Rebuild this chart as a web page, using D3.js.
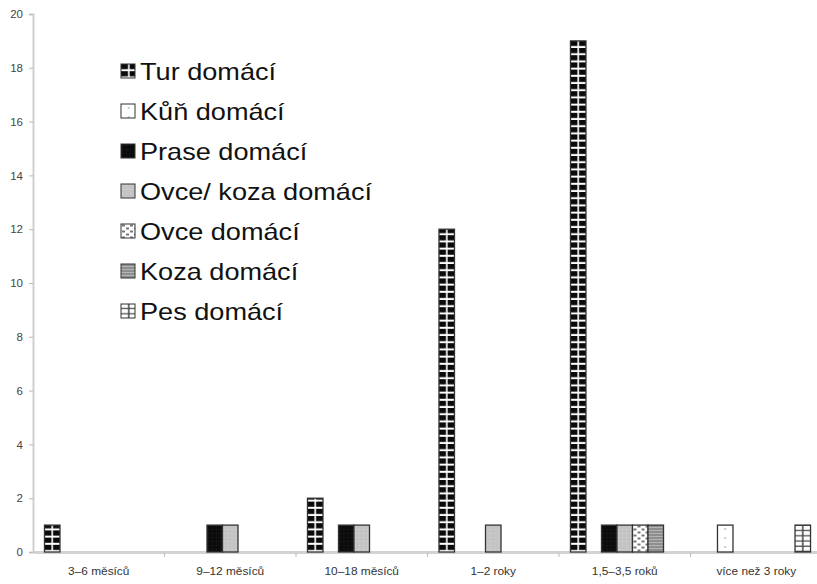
<!DOCTYPE html>
<html>
<head>
<meta charset="utf-8">
<script src="https://cdn.jsdelivr.net/npm/d3@7"></script>
<style>
  body { margin: 0; background: #fff; }
  svg { display: block; font-family: "Liberation Sans", Arial, sans-serif; }
</style>
</head>
<body>
<div id="chart"></div>
<script>
// age groups on the x axis
var categories = ["3–6 měsíců", "9–12 měsíců", "10–18 měsíců", "1–2 roky", "1,5–3,5 roků", "více než 3 roky"];
var series = ["Tur domácí", "Kůň domácí", "Prase domácí", "Ovce/ koza domácí", "Ovce domácí", "Koza domácí", "Pes domácí"];

// one array per species, in category order
var tur      = [1, 0, 2, 12, 19, 0];
var kun      = [0, 0, 0, 0, 0, 1];
var prase    = [0, 1, 1, 0, 1, 0];
var ovceKoza = [0, 1, 1, 1, 1, 0];
var ovce     = [0, 0, 0, 0, 1, 0];
var koza     = [0, 0, 0, 0, 1, 0];
var pes      = [0, 0, 0, 0, 0, 1];
var yTicks = [0, 2, 4, 6, 8, 10, 12, 14, 16, 18, 20];

var values = [tur, kun, prase, ovceKoza, ovce, koza, pes];

var width = 817, height = 584;
var margin = { top: 14, right: -5, bottom: 32, left: 33 };
var stretch = 1.13; // the original text is a bit wider than Arial

var svg = d3.select('#chart').append('svg')
    .attr('width', width)
    .attr('height', height);

var defs = svg.append('defs');

// fill patterns, one per series (black & white print style)
function pat(id, w, h, bg) {
    var p = defs.append('pattern')
        .attr('id', id)
        .attr('patternUnits', 'userSpaceOnUse')
        .attr('width', w).attr('height', h);
    p.append('rect').attr('width', w).attr('height', h).attr('fill', bg);
    return p;
}

var p0 = pat('p0', 15.5, 7.2, '#0a0a0a');
p0.append('rect').attr('x', 7).attr('width', 1.6).attr('height', 7.2).attr('fill', '#fff');
p0.append('rect').attr('y', 5.2).attr('width', 15.5).attr('height', 2).attr('fill', '#fff');

var p1 = pat('p1', 15.5, 9, '#fff');
p1.append('circle').attr('cx', 7.75).attr('cy', 4).attr('r', 1).attr('fill', '#bbb');

var p2 = pat('p2', 4, 4, '#0c0c0c');
p2.append('rect').attr('x', 1).attr('y', 1).attr('width', 1).attr('height', 1).attr('fill', '#222');

var p3 = pat('p3', 4, 4, '#c4c4c4');
p3.append('rect').attr('x', 1).attr('y', 1).attr('width', 1).attr('height', 1).attr('fill', '#d6d6d6');

var p4 = pat('p4', 8, 6, '#fff');
p4.append('rect').attr('x', 1).attr('y', 0.5).attr('width', 3).attr('height', 2).attr('fill', '#777');
p4.append('rect').attr('x', 5).attr('y', 3.5).attr('width', 3).attr('height', 2).attr('fill', '#777');

var p5 = pat('p5', 4, 3, '#8e8e8e');
p5.append('rect').attr('y', 2).attr('width', 4).attr('height', 1).attr('fill', '#b4b4b4');

var p6 = pat('p6', 15.5, 5.2, '#fff');
p6.append('rect').attr('x', 7).attr('width', 1.5).attr('height', 5.2).attr('fill', '#444');
p6.append('rect').attr('y', 4).attr('width', 15.5).attr('height', 1.2).attr('fill', '#444');

var x0 = d3.scaleBand()
    .domain(categories)
    .range([margin.left, width - margin.right])
    .padding(0);

var x1 = d3.scaleBand()
    .domain(series)
    .range([0, x0.bandwidth()])
    .paddingInner(0)
    .paddingOuter(0.74);

var y = d3.scaleLinear()
    .domain([0, 20])
    .range([height - margin.bottom, margin.top]);

// y axis
var yAxis = svg.append('g')
    .attr('transform', 'translate(' + margin.left + ',0)')
    .call(d3.axisLeft(y).tickValues(yTicks).tickSize(4).tickPadding(6));
yAxis.select('.domain').attr('stroke', '#cfcfcf').attr('stroke-width', 2);
yAxis.selectAll('.tick line').attr('stroke', '#bbb');
yAxis.selectAll('.tick text').attr('fill', '#444').attr('font-size', 11.5)
    .attr('font-family', '"Liberation Sans", Arial, sans-serif');

// x axis
var xAxis = svg.append('g')
    .attr('transform', 'translate(0,' + y(0) + ')')
    .call(d3.axisBottom(x0).tickSize(0).tickPadding(16));
xAxis.select('.domain').attr('stroke', '#d2d2d2').attr('stroke-width', 3);
xAxis.selectAll('.tick text').attr('fill', '#333').attr('font-size', 10.5)
    .attr('transform', 'scale(' + stretch + ',1)')
    .attr('font-family', '"Liberation Sans", Arial, sans-serif');

// separators between groups
svg.append('g').selectAll('line')
    .data(categories.slice(1))
    .join('line')
    .attr('x1', d => x0(d)).attr('x2', d => x0(d))
    .attr('y1', y(0) + 1).attr('y2', y(0) + 5)
    .attr('stroke', '#bbb');

// bars
var barData = [];
categories.forEach(function (c, ci) {
    series.forEach(function (s, si) {
        var v = values[si][ci];
        if (v > 0) barData.push({ cat: c, ser: s, si: si, value: v });
    });
});

var bars = svg.append('g').selectAll('g')
    .data(barData)
    .join('g')
    .attr('transform', d => 'translate(' + (x0(d.cat) + x1(d.ser)) + ',' + y(0) + ')');

bars.append('rect')
    .attr('x', 0)
    .attr('y', d => y(d.value) - y(0))
    .attr('width', x1.bandwidth())
    .attr('height', d => y(0) - y(d.value))
    .attr('fill', d => 'url(#p' + d.si + ')')
    .attr('stroke', '#333')
    .attr('stroke-width', 1.3);

// legend
var legend = svg.append('g').selectAll('g')
    .data(series)
    .join('g')
    .attr('transform', (d, i) => 'translate(121,' + (64 + i * 40) + ')');

legend.append('rect')
    .attr('width', 14).attr('height', 14)
    .attr('fill', (d, i) => 'url(#p' + i + ')')
    .attr('stroke', '#333')
    .attr('stroke-width', 1);

legend.append('text')
    .attr('transform', 'translate(19,16) scale(' + stretch + ',1)')
    .attr('font-size', 24)
    .attr('fill', '#111')
    .text(d => d);
</script>
</body>
</html>
